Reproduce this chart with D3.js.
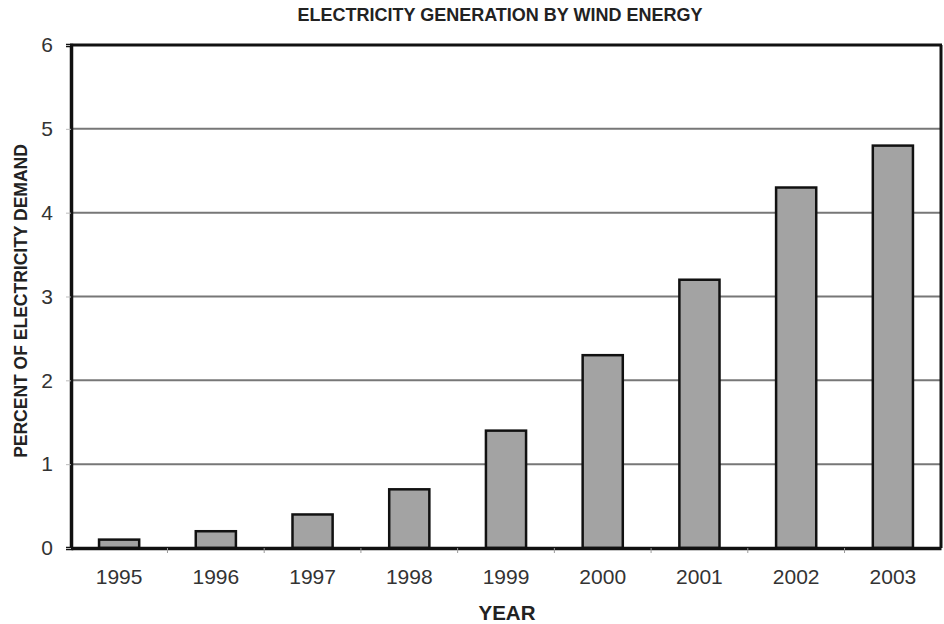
<!DOCTYPE html>
<html>
<head>
<meta charset="utf-8">
<script src="https://cdn.jsdelivr.net/npm/d3@7"></script>
<style>
  body { margin: 0; background: #fff; }
  text { font-family: Arial, "Liberation Sans", sans-serif; }
</style>
</head>
<body>
<script>
// chart data
var years = ["1995", "1996", "1997", "1998", "1999", "2000", "2001", "2002", "2003"];
var percents = [0.1, 0.2, 0.4, 0.7, 1.4, 2.3, 3.2, 4.3, 4.8];
var yTicks = [0, 1, 2, 3, 4, 5, 6];

var margin = {top: 45, left: 71, bottom: 76, right: 3};
var width = 944 - margin.left - margin.right;
var height = 624 - margin.top - margin.bottom;

var svg = d3.select("body").append("svg")
    .attr("width", 944)
    .attr("height", 624);

var g = svg.append("g")
    .attr("transform", "translate(" + margin.left + "," + margin.top + ")");

var x = d3.scaleBand()
    .domain(years)
    .range([0, width])
    .paddingInner(0.585)
    .paddingOuter(0.29);

var y = d3.scaleLinear()
    .domain([0, 6])
    .range([height, 0]);

// gridlines
g.selectAll(".grid")
    .data(yTicks.slice(1))
    .enter().append("line")
    .attr("x1", 0)
    .attr("x2", width)
    .attr("y1", function(d) { return y(d); })
    .attr("y2", function(d) { return y(d); })
    .attr("stroke", "#777")
    .attr("stroke-width", 2);

// right frame
g.append("line")
    .attr("x1", width).attr("x2", width)
    .attr("y1", 0).attr("y2", height)
    .attr("stroke", "#111").attr("stroke-width", 3);

// bars
g.selectAll(".bar")
    .data(years)
    .enter().append("rect")
    .attr("x", function(d) { return x(d); })
    .attr("y", function(d, i) { return y(percents[i]); })
    .attr("width", x.bandwidth())
    .attr("height", function(d, i) { return height - y(percents[i]); })
    .attr("fill", "#a3a3a3")
    .attr("stroke", "#111")
    .attr("stroke-width", 2.5);

// y axis
var yAxis = g.append("g")
    .call(d3.axisLeft(y).tickValues(yTicks).tickFormat(d3.format("d")).tickSize(5).tickPadding(13));
yAxis.select(".domain").attr("stroke", "#111").attr("stroke-width", 3.5);
yAxis.selectAll(".tick line").attr("stroke", "#bbb");
yAxis.selectAll(".tick text")
    .attr("font-size", 21).attr("fill", "#333")
    .style("font-family", "Arial, 'Liberation Sans', sans-serif");

// x axis, ticks between the bars
var xAxis = g.append("g")
    .attr("transform", "translate(0," + height + ")")
    .call(d3.axisBottom(x).tickSize(0).tickPadding(21));
xAxis.select(".domain").attr("stroke", "#111").attr("stroke-width", 3.5);
xAxis.selectAll(".tick text")
    .attr("font-size", 21).attr("fill", "#333")
    .style("font-family", "Arial, 'Liberation Sans', sans-serif");

g.selectAll(".xtick")
    .data(years.slice(1))
    .enter().append("line")
    .attr("x1", function(d) { return x(d) - x.step() * x.paddingInner() / 2; })
    .attr("x2", function(d) { return x(d) - x.step() * x.paddingInner() / 2; })
    .attr("y1", height)
    .attr("y2", height + 5)
    .attr("stroke", "#999");

// top frame
g.append("line")
    .attr("x1", -1).attr("x2", width + 1)
    .attr("y1", 0).attr("y2", 0)
    .attr("stroke", "#111").attr("stroke-width", 3);

// titles
svg.append("text")
    .attr("x", 500).attr("y", 21)
    .attr("text-anchor", "middle")
    .attr("font-size", 18).attr("font-weight", "bold").attr("fill", "#222")
    .text("ELECTRICITY GENERATION BY WIND ENERGY");

svg.append("text")
    .attr("x", 507).attr("y", 620)
    .attr("text-anchor", "middle")
    .attr("font-size", 20.5).attr("font-weight", "bold").attr("fill", "#222")
    .text("YEAR");

svg.append("text")
    .attr("transform", "translate(27,301) rotate(-90)")
    .attr("text-anchor", "middle")
    .attr("font-size", 17.5).attr("font-weight", "bold").attr("fill", "#222")
    .text("PERCENT OF ELECTRICITY DEMAND");
</script>
</body>
</html>
